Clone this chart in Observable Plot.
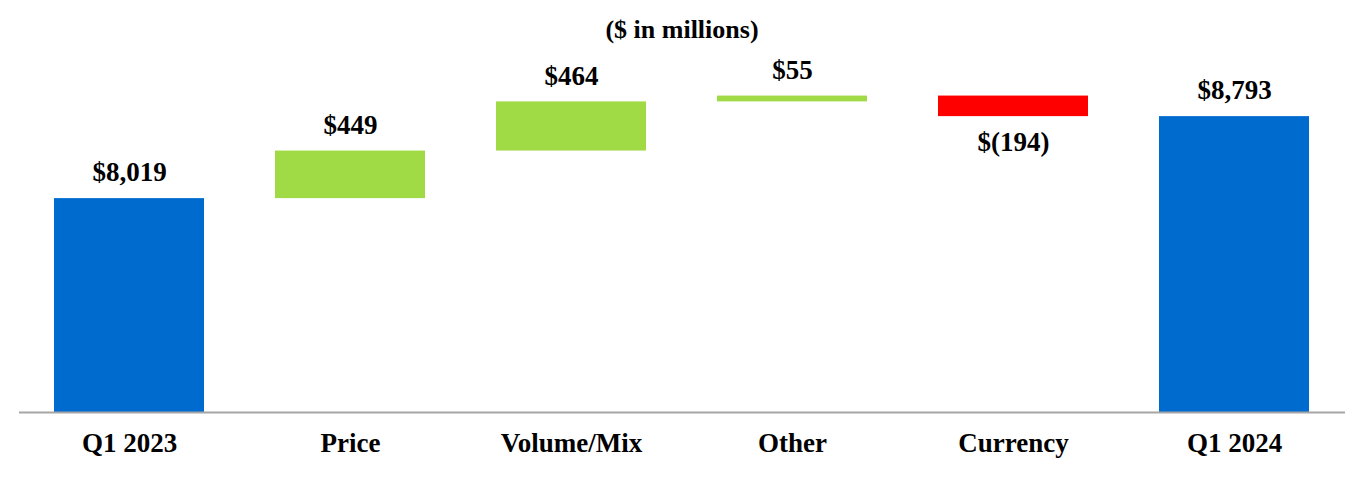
<!DOCTYPE html>
<html>
<head>
<meta charset="utf-8">
<script src="https://cdn.jsdelivr.net/npm/d3@7"></script>
<script src="https://cdn.jsdelivr.net/npm/@observablehq/plot@0.6"></script>
<style>
  body { margin: 0; background: #fff; width: 1364px; overflow: hidden; }
  #title { height: 50px; box-sizing: border-box; padding-top: 15px; line-height: 30px; text-align: center;
           font-family: "Liberation Serif", "Times New Roman", serif; font-weight: bold; font-size: 26px; color: #000; }
</style>
</head>
<body>
<div id="title">($ in millions)</div>
<div id="chart"></div>
<script>
const categories = ["Q1 2023", "Price", "Volume/Mix", "Other", "Currency", "Q1 2024"];
const values = [8019, 449, 464, 55, -194, 8793];
const kinds = ["total", "increase", "increase", "increase", "decrease", "total"];
const valueLabels = ["$8,019", "$449", "$464", "$55", "$(194)", "$8,793"];

let running = 0;
const data = categories.map((c, i) => {
  let y1, y2;
  if (kinds[i] === "total") { y1 = 0; y2 = values[i]; running = values[i]; }
  else { y1 = running; y2 = running + values[i]; running = y2; }
  return { cat: c, kind: kinds[i], y1, y2, top: Math.max(y1, y2), bottom: Math.min(y1, y2), label: valueLabels[i], neg: values[i] < 0 };
});

const font = "'Liberation Serif', 'Times New Roman', serif";
const chart = Plot.plot({
  width: 1364,
  height: 430,
  marginLeft: 19,
  marginRight: 19,
  marginTop: 23,
  marginBottom: 68,
  style: { fontFamily: font, color: "#000", background: "#fff" },
  x: { domain: categories, paddingInner: 0.32, paddingOuter: 0.16, label: null },
  y: { domain: [6000, 9200], axis: null },
  color: { domain: ["total", "increase", "decrease"], range: ["#006bcf", "#a0db46", "#ff0000"] },
  marks: [
    Plot.barY(data, { x: "cat", y1: "y1", y2: "y2", fill: "kind", clip: true }),
    Plot.ruleY([6000], { stroke: "#a6a6a6", strokeWidth: 2 }),
    Plot.text(data.filter(d => !d.neg), { x: "cat", y: "top", text: "label", dy: -26, fontSize: 27, fontWeight: "bold", fill: "#000" }),
    Plot.text(data.filter(d => d.neg), { x: "cat", y: "bottom", text: "label", dy: 26, fontSize: 27, fontWeight: "bold", fill: "#000" }),
    Plot.axisX({ tickSize: 0, tickPadding: 20, fontSize: 27, fontWeight: "bold", label: null })
  ]
});
document.getElementById("chart").appendChild(chart);
</script>
</body>
</html>
